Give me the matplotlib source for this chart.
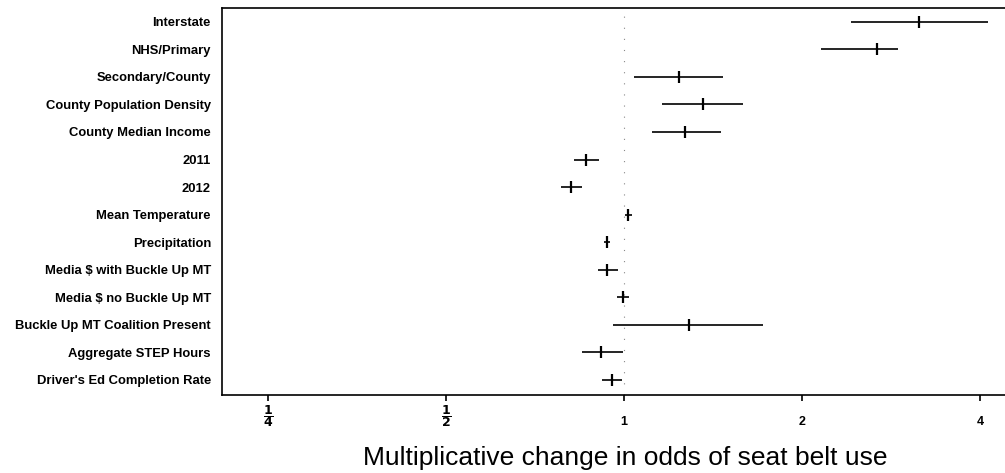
import numpy as np
import matplotlib.pyplot as plt

plt.rcParams['font.family'] = ['Liberation Sans', 'DejaVu Sans']

# predictors, top to bottom
labels = ["Interstate", "NHS/Primary", "Secondary/County", "County Population Density",
          "County Median Income", "2011", "2012", "Mean Temperature", "Precipitation",
          "Media $ with Buckle Up MT", "Media $ no Buckle Up MT",
          "Buckle Up MT Coalition Present", "Aggregate STEP Hours",
          "Driver's Ed Completion Rate"]
# odds ratios with 95% intervals
est = [3.15, 2.68, 1.24, 1.36, 1.27, 0.863, 0.813, 1.016, 0.936, 0.936, 0.996, 1.29, 0.915, 0.954]
low = [2.42, 2.15, 1.04, 1.16, 1.115, 0.823, 0.782, 1.003, 0.925, 0.904, 0.973, 0.958, 0.849, 0.918]
high = [4.13, 2.91, 1.47, 1.59, 1.46, 0.907, 0.849, 1.03, 0.948, 0.977, 1.02, 1.72, 0.996, 0.992]

tick_vals = [0.25, 0.5, 1, 2, 4]
tick_labels = [r'$\mathbf{\dfrac{1}{4}}$', r'$\mathbf{\dfrac{1}{2}}$', '1', '2', '4']

fig = plt.figure(figsize=(10.05, 4.73), dpi=100)
ax = fig.add_axes([0.221, 0.165, 0.779, 0.818])

y = np.arange(len(labels))
ax.axvline(1, color='#888888', lw=0.8, ls=(0, (1, 9)), zorder=1)
ax.hlines(y, low, high, color='black', lw=1.2, zorder=2)
ax.plot(est, y, ls='none', marker='|', ms=9, mew=1.6, color='black', zorder=3)

ax.set_xscale('log', base=2)
ax.set_xlim(0.209, 4.41)
ax.set_ylim(len(labels) - 0.45, -0.5)

ax.set_yticks(y)
ax.set_yticklabels(labels, fontsize=9.4, fontweight='bold')
ax.tick_params(axis='y', length=0, pad=8)

ax.set_xticks(tick_vals)
ax.set_xticklabels(tick_labels, fontsize=9, fontweight='bold')
ax.minorticks_off()
ax.tick_params(axis='x', length=4, width=1.2, pad=4)
for i, t in enumerate(ax.get_xticklabels()):
    t.set_verticalalignment('center')
    t.set_y(-0.025 if i < 2 else -0.04)

for s in ['left', 'top', 'bottom']:
    ax.spines[s].set_linewidth(1.2)
ax.spines['right'].set_visible(False)

fig.text(625 / 1005, 0.032, "Multiplicative change in odds of seat belt use",
         ha='center', va='center', fontsize=19)

fig.savefig('out.png', dpi=100)
